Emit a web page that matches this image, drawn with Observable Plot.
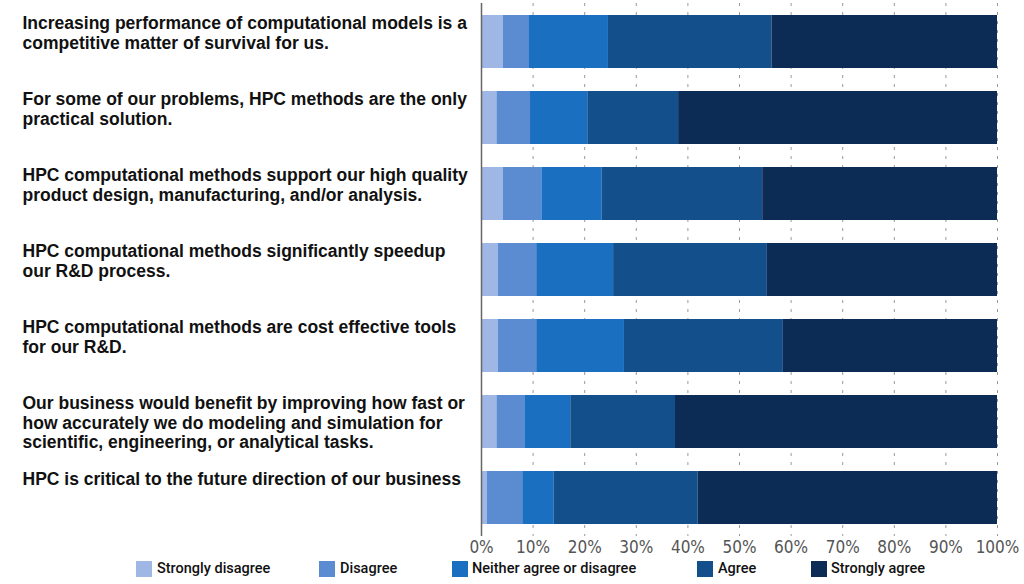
<!DOCTYPE html>
<html>
<head>
<meta charset="utf-8">
<script src="https://cdn.jsdelivr.net/npm/d3@7"></script>
<script src="https://cdn.jsdelivr.net/npm/@observablehq/plot@0.6"></script>
<style>
  body { margin: 0; background: #fff; }
  #wrap { position: relative; width: 1024px; }
  #legend { position: relative; height: 28px; font-family: Roboto, "Liberation Sans", sans-serif; font-weight: 500; font-size: 14.5px; color: #111; }
  .sw { position: absolute; top: 5px; width: 16px; height: 16px; }
  .lt { position: absolute; top: 4px; line-height: 18px; white-space: nowrap; }
</style>
</head>
<body>
<div id="wrap">
  <div id="chart"></div>
  <div id="legend"></div>
</div>
<script>
const statements = [
  "Increasing performance of computational models is a\ncompetitive matter of survival for us.",
  "For some of our problems, HPC methods are the only\npractical solution.",
  "HPC computational methods support our high quality\nproduct design, manufacturing, and/or analysis.",
  "HPC computational methods significantly speedup\nour R&D process.",
  "HPC computational methods are cost effective tools\nfor our R&D.",
  "Our business would benefit by improving how fast or\nhow accurately we do modeling and simulation for\nscientific, engineering, or analytical tasks.",
  "HPC is critical to the future direction of our business"
];
const responses = ["Strongly disagree", "Disagree", "Neither agree or disagree", "Agree", "Strongly agree"];
const stronglyDisagree = [4.2, 3.0, 4.2, 3.3, 3.3, 3.0, 1.1];
const disagree         = [5.1, 6.5, 7.5, 7.4, 7.4, 5.4, 6.9];
const neither          = [15.3, 11.1, 11.7, 14.9, 17.0, 8.9, 6.1];
const agree            = [31.7, 17.6, 31.1, 29.8, 30.8, 20.3, 27.9];
const stronglyAgree    = [43.7, 61.8, 45.5, 44.6, 41.5, 62.4, 58.0];
const xTicks = [0, 10, 20, 30, 40, 50, 60, 70, 80, 90, 100];
const colors = ["#9fb7e4", "#5b8bd0", "#1b6fc1", "#124f8b", "#0c2b55"];

const series = [stronglyDisagree, disagree, neither, agree, stronglyAgree];
const rows = [];
statements.forEach((s, i) => {
  responses.forEach((r, j) => rows.push({statement: s, response: r, value: series[j][i]}));
});

const chart = Plot.plot({
  width: 1024,
  height: 556,
  marginLeft: 481,
  marginRight: 27,
  marginTop: 3,
  marginBottom: 20,
  style: {background: "#fff"},
  x: {domain: [0, 100], ticks: xTicks, tickFormat: d => d + "%", axis: null},
  y: {domain: statements, axis: null, paddingInner: 0.3, paddingOuter: 0.15},
  color: {domain: responses, range: colors},
  marks: [
    Plot.ruleX(xTicks.slice(1), {stroke: "#999", strokeWidth: 1, strokeDasharray: "3,6"}),
    Plot.barX(rows, Plot.stackX({x: "value", y: "statement", fill: "response", order: responses})),
    Plot.ruleX([0], {stroke: "#666", strokeWidth: 1.5}),
    Plot.axisX({ticks: xTicks, tickFormat: d => d + "%", tickSize: 0, tickPadding: 4, fontSize: 17,
      fontFamily: "'Liberation Sans Narrow', 'DejaVu Sans Condensed', sans-serif", fill: "#555", label: null}),
    Plot.text(statements, {y: d => d, text: d => d, frameAnchor: "left", dx: -459, dy: -27,
      textAnchor: "start", lineAnchor: "top", lineHeight: 1.12, fontSize: 17.5, fontWeight: "bold",
      fontFamily: "'Liberation Sans', Arial, sans-serif", fill: "#111"})
  ]
});
document.getElementById("chart").appendChild(chart);

const legendPos = [[136, 157], [319, 340], [452, 472], [697, 718], [811, 831]];
const legend = document.getElementById("legend");
responses.forEach((r, i) => {
  const sw = document.createElement("div");
  sw.className = "sw"; sw.style.left = legendPos[i][0] + "px"; sw.style.background = colors[i];
  const t = document.createElement("div");
  t.className = "lt"; t.style.left = legendPos[i][1] + "px"; t.textContent = r;
  legend.appendChild(sw); legend.appendChild(t);
});
</script>
</body>
</html>
